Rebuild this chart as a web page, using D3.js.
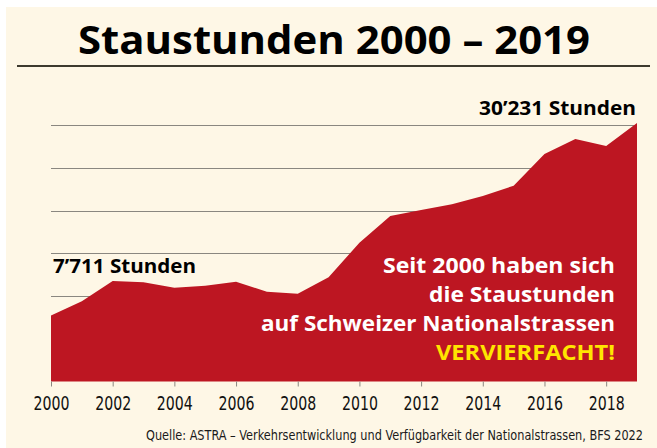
<!DOCTYPE html>
<html lang="de">
<head>
<meta charset="utf-8">
<title>Staustunden 2000 – 2019</title>
<script src="https://cdn.jsdelivr.net/npm/d3@7/dist/d3.min.js"></script>
<style>
  body { margin: 0; background: #fff; }
  svg { display: block; }
  .bold   { font-family: "Open Sans", "DejaVu Sans", sans-serif; font-weight: 700; }
  .narrow { font-family: "Liberation Sans Narrow", "DejaVu Sans Condensed", sans-serif; }
  .grid line { stroke: #8a8780; stroke-width: 1; }
  .xaxis line { stroke: #8a8780; }
  .xaxis text { fill: #111; }
</style>
</head>
<body>
<div id="chart"></div>
<script>
// data
const years = [2000, 2001, 2002, 2003, 2004, 2005, 2006, 2007, 2008, 2009,
               2010, 2011, 2012, 2013, 2014, 2015, 2016, 2017, 2018, 2019];
const hours = [7711, 9400, 11750, 11600, 10970, 11200, 11670, 10500, 10270, 12190,
               16230, 19360, 20060, 20720, 21700, 22900, 26610, 28360, 27540, 30231];
const tickYears  = [2000, 2002, 2004, 2006, 2008, 2010, 2012, 2014, 2016, 2018];
const gridValues = [5000, 10000, 15000, 20000, 25000, 30000];

const title      = "Staustunden 2000 – 2019";
const startLabel = "7’711 Stunden";
const endLabel   = "30’231 Stunden";
const message    = ["Seit 2000 haben sich", "die Staustunden", "auf Schweizer Nationalstrassen"];
const highlight  = "VERVIERFACHT!";
const source     = "Quelle: ASTRA – Verkehrsentwicklung und Verfügbarkeit der Nationalstrassen, BFS 2022";

const W = 657, H = 448;
const red = "#bd1622", cream = "#fef7e6";

const svg = d3.select("#chart").append("svg")
    .attr("width", W).attr("height", H);

svg.append("rect").attr("x", 6).attr("y", 7)
    .attr("width", W - 6).attr("height", H - 7).attr("fill", cream);

/* ---- title ---- */
svg.append("text").attr("class", "bold")
    .attr("x", 78).attr("y", 54)
    .attr("font-size", 40).attr("fill", "#000")
    .attr("textLength", 512).attr("lengthAdjust", "spacingAndGlyphs")
    .text(title);
svg.append("line").attr("x1", 17).attr("x2", 650).attr("y1", 66).attr("y2", 66)
    .attr("stroke", "#3d3a2e").attr("stroke-width", 2);

/* ---- scales ---- */
const x = d3.scaleLinear().domain([2000, 2019]).range([51, 637]);
const y = d3.scaleLinear().domain([0, 30000]).range([381.5, 125]);

const data = years.map((yr, i) => ({year: yr, value: hours[i]}));

// gridlines (under the area)
svg.append("g").attr("class", "grid")
  .selectAll("line").data(gridValues).join("line")
    .attr("x1", x(2000)).attr("x2", x(2019))
    .attr("y1", d => Math.round(y(d)) + 0.5).attr("y2", d => Math.round(y(d)) + 0.5);

// area
const area = d3.area()
    .x(d => x(d.year))
    .y0(y(0))
    .y1(d => y(d.value));
svg.append("path").datum(data).attr("d", area).attr("fill", red);

// x axis
const xAxis = d3.axisBottom(x)
    .tickValues(tickYears)
    .tickFormat(d3.format("d"))
    .tickSize(5)
    .tickPadding(9);
svg.append("g").attr("class", "xaxis narrow")
    .attr("transform", `translate(0,${y(0)})`)
    .call(xAxis)
    .call(g => g.select(".domain").remove())
    .call(g => g.selectAll("text")
        .attr("font-size", 20).attr("font-family", null)
        .attr("textLength", 36).attr("lengthAdjust", "spacingAndGlyphs"));

/* ---- labels ---- */
svg.append("text").attr("class", "bold")
    .attr("x", 53).attr("y", 273).attr("font-size", 20).attr("fill", "#000")
    .attr("textLength", 143).attr("lengthAdjust", "spacingAndGlyphs")
    .text(startLabel);

svg.append("text").attr("class", "bold")
    .attr("x", 636).attr("y", 115).attr("font-size", 20).attr("fill", "#000")
    .attr("text-anchor", "end")
    .attr("textLength", 157).attr("lengthAdjust", "spacingAndGlyphs")
    .text(endLabel);

const msgWidths = [232, 186, 354, 179];
const msg = svg.append("g").attr("class", "bold").attr("font-size", 21).attr("text-anchor", "end");
message.concat([highlight]).forEach((t, i) => {
  msg.append("text")
    .attr("x", 615).attr("y", 273 + i * 29)
    .attr("fill", t === highlight ? "#ffe500" : "#fff")
    .attr("textLength", msgWidths[i]).attr("lengthAdjust", "spacingAndGlyphs")
    .text(t);
});

/* ---- source ---- */
svg.append("text").attr("class", "narrow")
    .attr("x", 643).attr("y", 440).attr("font-size", 14).attr("fill", "#1a1a1a")
    .attr("text-anchor", "end")
    .attr("textLength", 497).attr("lengthAdjust", "spacingAndGlyphs")
    .text(source);
</script>
</body>
</html>
